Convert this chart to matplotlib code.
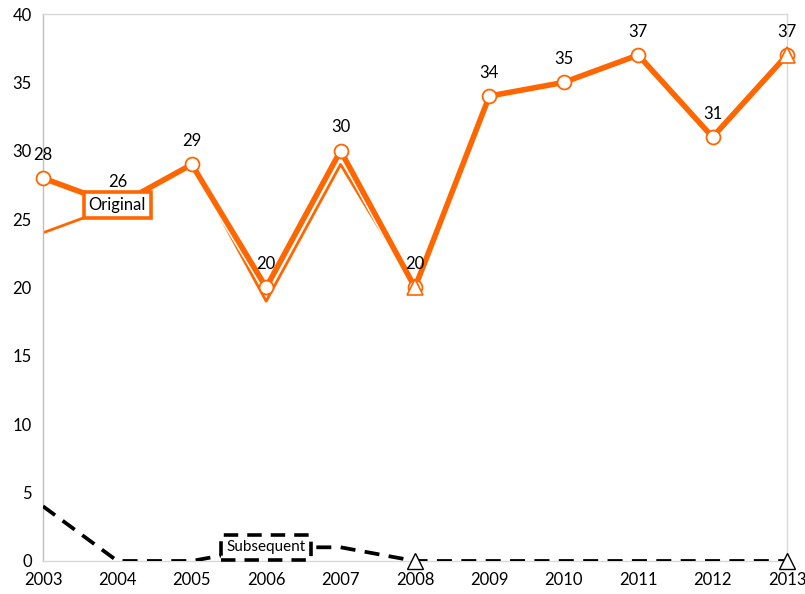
import matplotlib.pyplot as plt
import matplotlib.patheffects as pe

# Datos
anios = [2003, 2004, 2005, 2006, 2007, 2008, 2009, 2010, 2011, 2012, 2013]
original = [28, 26, 29, 20, 30, 20, 34, 35, 37, 31, 37]
original_b = [24, 26, 29, 19, 29, 20, 34, 35, 37, 31, 37]
subsequent = [4, 0, 0, 1, 1, 0, 0, 0, 0, 0, 0]
anios_tri = [2008, 2013]

naranja = '#FF6600'
plt.rcParams['font.family'] = ['Lato', 'DejaVu Sans']

fig = plt.figure(figsize=(8.05, 5.94), dpi=100)
ax = fig.add_axes([0.0534, 0.0556, 0.9242, 0.9208])

# Linea fina (original b) con triangulos
ax.plot(anios, original_b, color=naranja, lw=2.0, zorder=2)
tri_o = [original_b[anios.index(a)] for a in anios_tri]
ax.plot(anios_tri, tri_o, ls='none', marker='^', ms=12, mfc='white',
        mec=naranja, mew=1.2, zorder=5, clip_on=False)

# Linea gruesa con circulos
ax.plot(anios, original, color=naranja, lw=4.0, zorder=3,
        path_effects=[pe.Stroke(linewidth=6.2, foreground='white'), pe.Normal()])
ax.plot(anios, original, ls='none', marker='o', ms=10, mfc='white',
        mec=naranja, mew=1.3, zorder=4, clip_on=False)

for a, v in zip(anios, original):
    ax.annotate(str(v), (a, v), xytext=(0, 11), textcoords='offset points',
                ha='center', va='bottom', fontsize=12, zorder=6)

# Linea discontinua negra
ax.plot(anios, subsequent, color='black', lw=2.7, ls=(0, (4, 2.5)), zorder=3)
tri_s = [subsequent[anios.index(a)] for a in anios_tri]
ax.plot(anios_tri, tri_s, ls='none', marker='^', ms=12, mfc='white',
        mec='black', mew=1.0, zorder=5, clip_on=False)

# Etiquetas de serie
ax.text(2004.0, 26.0, 'Original', ha='center', va='center', fontsize=12, zorder=7,
        bbox=dict(boxstyle='square,pad=0.3', fc='white', ec=naranja, lw=2.6))
ax.text(2006.0, 1.0, 'Subsequent', ha='center', va='center', fontsize=11, zorder=7,
        bbox=dict(boxstyle='square,pad=0.35', fc='white', ec='black', lw=2.6, ls=(0, (4, 2.5))))

ax.set_xlim(2003, 2013)
ax.set_ylim(0, 40)
ax.set_xticks(anios)
ax.set_yticks(range(0, 41, 5))
ax.tick_params(length=0, labelsize=12, pad=8)
for s in ax.spines.values():
    s.set_color('#D9D9D9')
    s.set_linewidth(1)
ax.spines['left'].set_color('#BFBFBF')

fig.savefig('out.png', dpi=100)
